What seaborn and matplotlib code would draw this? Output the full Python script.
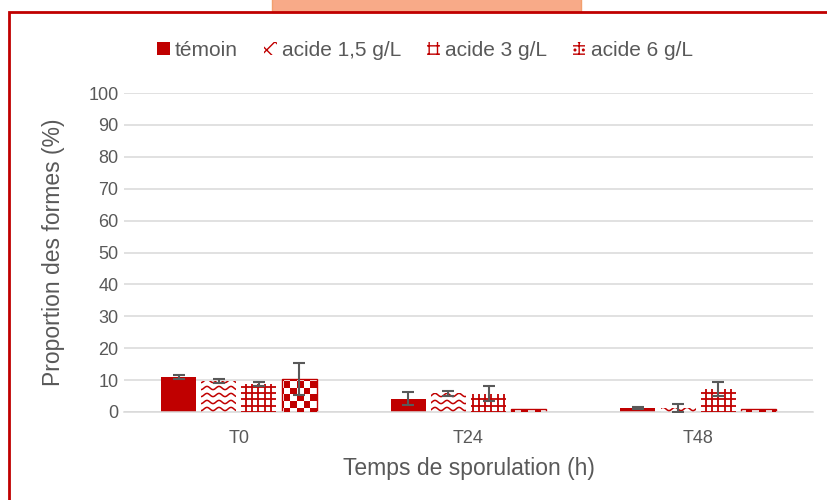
import numpy as np
import pandas as pd
import matplotlib
matplotlib.use("Agg")
import matplotlib.pyplot as plt
import seaborn as sns
from matplotlib.patches import Rectangle, Patch
from matplotlib.collections import LineCollection, PatchCollection
from matplotlib.transforms import IdentityTransform

# ---- data -------------------------------------------------------------
categories = ["T0", "T24", "T48"]
series_names = ["témoin", "acide 1,5 g/L", "acide 3 g/L", "acide 6 g/L"]

temoin = [11.0, 4.2, 1.2]
temoin_err = [0.5, 2.0, 0.3]
acide_1_5 = [9.7, 5.8, 1.2]
acide_1_5_err = [0.5, 0.8, 1.3]
acide_3 = [8.8, 5.7, 7.2]
acide_3_err = [0.6, 2.3, 2.3]
acide_6 = [10.4, 1.0, 1.0]
acide_6_err = [5.1, 0.0, 0.0]

y_ticks = list(range(0, 101, 10))

# ---- style ------------------------------------------------------------
RED = "#C00000"
TXT = "#595959"
GRID = "#D9D9D9"

sns.set_theme(style="white")
plt.rcParams["font.family"] = ["Liberation Sans", "DejaVu Sans"]
plt.rcParams["hatch.linewidth"] = 1.0

values = [temoin, acide_1_5, acide_3, acide_6]
errors = [temoin_err, acide_1_5_err, acide_3_err, acide_6_err]

df = pd.DataFrame({
    "temps": categories * len(series_names),
    "serie": np.repeat(series_names, len(categories)),
    "val": np.concatenate(values),
})

W, H = 828, 500
fig = plt.figure(figsize=(W / 100, H / 100), dpi=100)
fig.patch.set_facecolor("white")
ax = fig.add_axes([124 / W, 88 / H, 689 / W, 319 / H])

sns.barplot(data=df, x="temps", y="val", hue="serie", order=categories,
            hue_order=series_names, palette=[RED] * 4, saturation=1,
            width=0.7, gap=0.13, errorbar=None, legend=False, ax=ax,
            linewidth=0, zorder=2)

ax.set_xlim(-0.5, 2.5)
ax.set_ylim(0, 100)
ax.set_yticks(y_ticks)
ax.yaxis.grid(True, color=GRID, linewidth=1.1, zorder=0)
ax.set_axisbelow(True)
for side in ["left", "right", "top"]:
    ax.spines[side].set_visible(False)
ax.spines["bottom"].set_color(GRID)
ax.spines["bottom"].set_linewidth(1.1)
ax.tick_params(axis="both", length=0, colors=TXT, labelsize=13)
ax.tick_params(axis="x", pad=13)
ax.tick_params(axis="y", pad=4)
ax.set_xlabel("Temps de sporulation (h)", color=TXT, fontsize=16.5, labelpad=7)
ax.set_ylabel("Proportion des formes (%)", color=TXT, fontsize=16.5, labelpad=17)

# error bars centred on each drawn bar
for cont, vals, errs in zip(ax.containers, values, errors):
    xs, ys, es = [], [], []
    for patch, v, e in zip(cont.patches, vals, errs):
        if e > 0:
            xs.append(patch.get_x() + patch.get_width() / 2)
            ys.append(v)
            es.append(e)
    if xs:
        ax.errorbar(xs, ys, yerr=es, fmt="none", ecolor=TXT, elinewidth=1.5,
                    capsize=4.3, capthick=1.5, zorder=5)

# ---- fill patterns (drawn in pixel space, clipped to each bar) --------
fig.canvas.draw()
ident = IdentityTransform()


def wave_fill(patch):
    bb = patch.get_window_extent()
    step_y, period, amp = 7.0, 12.0, 1.6
    segs = []
    xs = np.arange(bb.x0 - period, bb.x1 + period, 0.5)
    k0 = int(np.floor(bb.y0 / step_y)) - 1
    k1 = int(np.ceil(bb.y1 / step_y)) + 1
    for k in range(k0, k1):
        ys = k * step_y + amp * np.sin(2 * np.pi * xs / period)
        segs.append(np.column_stack([xs, ys]))
    lc = LineCollection(segs, colors=RED, linewidths=1.1, transform=ident,
                        zorder=3)
    ax.add_collection(lc)
    lc.set_clip_path(patch)


def grid_fill(patch):
    bb = patch.get_window_extent()
    step = 6.3
    segs = []
    for k in range(int(np.floor(bb.x0 / step)) - 1, int(np.ceil(bb.x1 / step)) + 1):
        segs.append([(k * step, bb.y0 - 2), (k * step, bb.y1 + 2)])
    for k in range(int(np.floor(bb.y0 / step)) - 1, int(np.ceil(bb.y1 / step)) + 1):
        segs.append([(bb.x0 - 2, k * step), (bb.x1 + 2, k * step)])
    lc = LineCollection(segs, colors=RED, linewidths=1.3, transform=ident,
                        zorder=3)
    ax.add_collection(lc)
    lc.set_clip_path(patch)


def checker_fill(patch):
    bb = patch.get_window_extent()
    size = 6.6
    rects = []
    for i in range(int(np.floor(bb.x0 / size)) - 1, int(np.ceil(bb.x1 / size)) + 1):
        for j in range(int(np.floor(bb.y0 / size)) - 1, int(np.ceil(bb.y1 / size)) + 1):
            if (i + j) % 2 == 0:
                rects.append(Rectangle((i * size, j * size), size, size))
    pc = PatchCollection(rects, facecolor=RED, edgecolor="none",
                         transform=ident, zorder=3)
    ax.add_collection(pc)
    pc.set_clip_path(patch)


fillers = [None, wave_fill, grid_fill, checker_fill]
for cont, filler in zip(ax.containers, fillers):
    if filler is None:
        continue
    for patch in cont.patches:
        patch.set_facecolor("white")
        if filler is checker_fill:
            patch.set_edgecolor(RED)
            patch.set_linewidth(1.0)
        filler(patch)

# ---- legend -----------------------------------------------------------
handles = [
    Patch(facecolor=RED, edgecolor=RED, linewidth=0),
    Patch(facecolor="white", edgecolor=RED, linewidth=0, hatch="xx"),
    Patch(facecolor="white", edgecolor=RED, linewidth=0, hatch="++"),
    Patch(facecolor="white", edgecolor=RED, linewidth=0, hatch="++.."),
]
leg = fig.legend(handles, series_names, loc="center", ncol=4,
                 bbox_to_anchor=(425 / W, 1 - 50 / H), frameon=False,
                 fontsize=15, handlelength=0.6, handleheight=0.6,
                 handletextpad=0.25, columnspacing=1.25)
for t in leg.get_texts():
    t.set_color(TXT)

# ---- surrounding frame and tab ---------------------------------------
fig.add_artist(Rectangle((272 / W, 1 - 12 / H), (581 - 272) / W, 14 / H,
                         transform=fig.transFigure, facecolor="#F8AA88",
                         edgecolor="#F2A06E", linewidth=1, zorder=0))
fig.add_artist(Rectangle((9 / W, -0.1), 2.0, 1.1 - 12 / H,
                         transform=fig.transFigure, fill=False,
                         edgecolor=RED, linewidth=2.0, zorder=1))

fig.savefig("out.png", dpi=100, facecolor="white")
